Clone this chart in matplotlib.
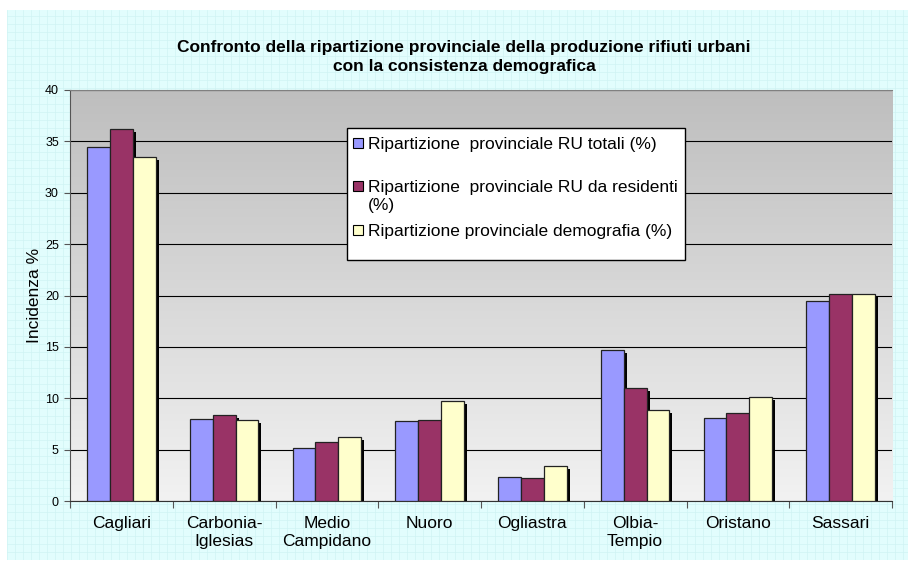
import numpy as np
import matplotlib.pyplot as plt
import matplotlib.patheffects as pe
from matplotlib.patches import Rectangle

plt.rcParams['font.family'] = ['Liberation Sans', 'DejaVu Sans']

province = ['Cagliari', 'Carbonia-\nIglesias', 'Medio\nCampidano', 'Nuoro',
            'Ogliastra', 'Olbia-\nTempio', 'Oristano', 'Sassari']
ru_totali = [34.5, 7.95, 5.2, 7.8, 2.3, 14.7, 8.05, 19.5]
ru_residenti = [36.2, 8.35, 5.7, 7.9, 2.25, 11.0, 8.6, 20.1]
demografia = [33.5, 7.9, 6.25, 9.75, 3.45, 8.9, 10.15, 20.15]
serie = ['Ripartizione  provinciale RU totali (%)',
         'Ripartizione  provinciale RU da residenti\n(%)',
         'Ripartizione provinciale demografia (%)']
colori = ['#9999FF', '#993366', '#FFFFCC']

W, H = 908, 570
fig = plt.figure(figsize=(W / 100, H / 100), dpi=100)

# helper: pixel coords (from top-left) -> figure fraction
def px(x, y):
    return x / W, 1 - y / H

# grid-paper background
bg = fig.add_axes([7 / W, 1 - 560 / H, (W - 7) / W, 550 / H])
bg.set_facecolor('#E2FDFD')
bg.set_xlim(0, W - 7)
bg.set_ylim(0, 550)
for v in np.arange(0, W, 8):
    bg.axvline(v, color='#D0F3F4', lw=0.5)
for v in np.arange(0, 560, 8):
    bg.axhline(v, color='#D0F3F4', lw=0.5)
bg.set_xticks([])
bg.set_yticks([])
for s in bg.spines.values():
    s.set_visible(False)

ax = fig.add_axes([70 / W, 1 - 501 / H, 822 / W, 411 / H])
ax.set_xlim(-0.5, 7.5)
ax.set_ylim(0, 40)

# gradient plot area
grad = np.linspace(0, 1, 256).reshape(-1, 1)
ax.imshow(grad, cmap=plt.matplotlib.colors.LinearSegmentedColormap.from_list(
    'g', ['#F2F2F2', '#BEBEBE']), origin='lower', aspect='auto',
    extent=(-0.5, 7.5, 0, 40), zorder=0)

x = np.arange(len(province))
w = 0.222
shadow = [pe.SimplePatchShadow(offset=(2.2, -2.2), shadow_rgbFace='black', alpha=1), pe.Normal()]
for i, (vals, c) in enumerate(zip([ru_totali, ru_residenti, demografia], colori)):
    bars = ax.bar(x + (i - 1) * w, vals, w, color=c, edgecolor='#222222', lw=0.9, zorder=3)
    for b in bars:
        b.set_path_effects(shadow)

ax.set_yticks(np.arange(0, 41, 5))
ax.yaxis.grid(True, color='black', lw=0.8)
ax.set_axisbelow(True)
ax.tick_params(axis='y', direction='out', length=4, color='#555555', labelsize=9, pad=4)

ax.set_xticks(np.arange(-0.5, 8, 1))
ax.set_xticklabels([])
ax.set_xticks(x, minor=True)
ax.set_xticklabels(province, minor=True, fontsize=12.5)
ax.tick_params(axis='x', which='major', direction='out', length=5, color='#555555')
ax.tick_params(axis='x', which='minor', length=0, pad=11)

ax.spines['top'].set_color('#808080')
ax.spines['right'].set_visible(False)
ax.spines['left'].set_color('#555555')
ax.spines['bottom'].set_color('#333333')

ax.set_ylabel('Incidenza %', fontsize=12.5, labelpad=2)

fig.text(*px(464, 57), 'Confronto della ripartizione provinciale della produzione rifiuti urbani\n'
         'con la consistenza demografica', ha='center', va='center',
         fontsize=12.5, fontweight='bold', linespacing=1.3)

# legend box
x0, y0 = px(347, 260)
x1, y1 = px(685, 128)
fig.patches.append(Rectangle((x0, y0), x1 - x0, y1 - y0, transform=fig.transFigure,
                             facecolor='white', edgecolor='black', lw=1, zorder=5))
for lab, c, yy in zip(serie, colori, [143, 186, 230]):
    sx, sy = px(353, yy + 5)
    fig.patches.append(Rectangle((sx, sy), 10 / W, 10 / H, transform=fig.transFigure,
                                 facecolor=c, edgecolor='black', lw=0.8, zorder=6))
    tx, ty = px(368, yy - 6)
    fig.text(tx, ty, lab, ha='left', va='top', fontsize=12.5, linespacing=1.25, zorder=7)

fig.savefig('out.png', dpi=100)
